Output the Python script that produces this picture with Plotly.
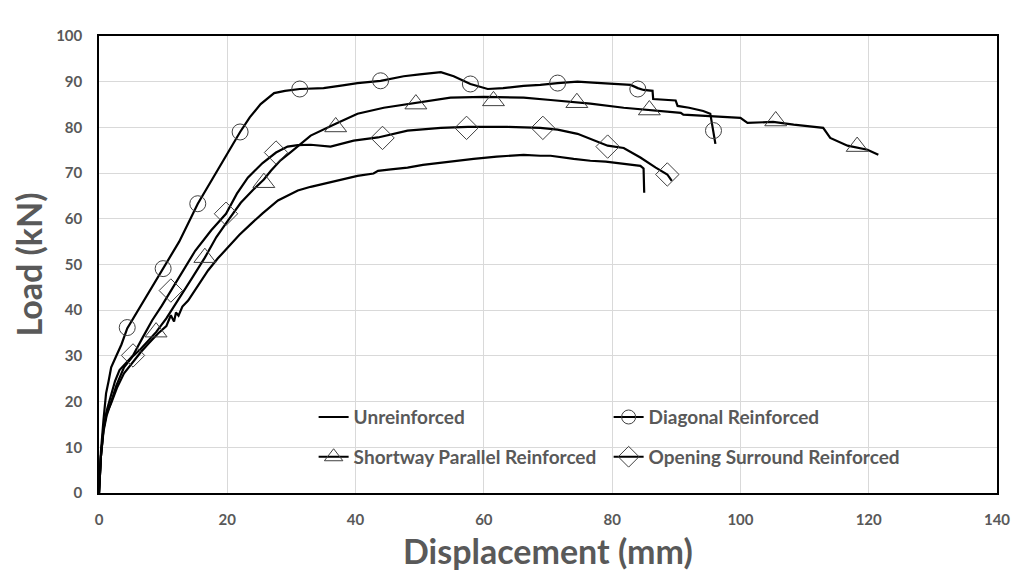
import plotly.graph_objects as go

# ---------------- data ----------------
unr_x = [0, 0.3, 0.7, 1.2, 1.9, 2.8, 3.9, 5.2, 6.5, 7.8, 9.2, 10.5, 11.2, 11.7, 12.0, 12.4, 13.0, 13.9,
         15.5, 17.0, 18.5, 20.1, 21.9, 23.7, 25.5, 27.9, 29.5, 31.0, 33.0, 35.0, 37.5, 40.3, 42.8, 43.5,
         45.5, 48.1, 50.5, 53.3, 56.0, 58.4, 62.0, 66.2, 68.8, 70.4, 74.0, 76.6, 79.0, 81.8, 84.4, 84.9,
         85.0, 85.0]
unr_y = [0, 8, 14, 17.5, 19.7, 23.0, 26.2, 28.6, 30.8, 32.8, 34.9, 36.5, 38.9, 37.5, 39.5, 38.8, 40.8, 42.1,
         45.5, 48.7, 51.3, 53.7, 56.5, 58.9, 61.2, 64.0, 65.2, 66.2, 67.0, 67.7, 68.5, 69.4, 69.9, 70.5,
         70.8, 71.2, 71.8, 72.3, 72.8, 73.1, 73.6, 74.0, 73.8, 73.8, 73.1, 72.7, 72.5, 72.1, 71.6, 71.0,
         68.0, 65.7]

dia_x = [0, 0.3, 0.7, 1.1, 1.5, 1.9, 2.6, 3.5, 4.4, 6, 8, 10, 12.5, 15.4, 18.5, 22.0, 23.5, 25.2, 27.3, 29,
         31.3, 35, 38, 40.3, 43.9, 47.5, 50, 53.3, 55.3, 57.9, 60.6, 63, 66.2, 68.8, 71.5, 74.6, 77, 79.8,
         81.3, 82.9, 84.0, 84.9, 86.3, 86.4, 89.9, 90.2, 92, 94.2, 95.3, 95.6, 96.1]
dia_y = [0, 9, 16, 21.8, 24.5, 27.5, 29.7, 32.5, 36.0, 39.8, 44.6, 49.1, 55, 63.3, 70.8, 79.0, 82.2, 85.1,
         87.5, 88.0, 88.4, 88.6, 89.2, 89.7, 90.2, 91.2, 91.6, 92.1, 91.2, 89.5, 88.4, 88.6, 89.1, 89.3,
         89.7, 90.0, 89.8, 89.5, 89.5, 89.3, 88.6, 88.2, 88.0, 86.2, 85.9, 84.7, 84.3, 83.6, 83.0, 80.8, 76.4]
dia_mx = [4.4, 10.0, 15.4, 22.0, 31.3, 43.9, 57.9, 71.5, 84.0, 95.8]
dia_my = [36.2, 49.1, 63.3, 79.0, 88.4, 90.2, 89.5, 89.7, 88.4, 79.3]

sho_x = [0, 0.3, 0.7, 1.2, 1.8, 2.7, 3.9, 5.2, 6.5, 7.8, 8.9, 10.5, 12.5, 14.5, 16.5, 18.3, 20.1, 22.1, 24,
         25.7, 26.8, 28.3, 29.9, 33.0, 36.9, 40.3, 44.4, 49.4, 54.8, 60, 66.2, 70.4, 72, 76.6, 81.8, 86,
         90.7, 91.1, 95.3, 100, 101.1, 105.1, 108.3, 112.9, 114, 116.7, 119.8, 121.5]
sho_y = [0, 8, 13.5, 17, 19.5, 23.5, 27.5, 29.8, 31.5, 33.5, 35.2, 38.2, 42.5, 47, 51.5, 56, 59.6, 63.5,
         66.3, 68.6, 70.5, 72.8, 74.6, 78.2, 80.8, 83.0, 84.3, 85.4, 86.5, 86.7, 86.5, 86.0, 85.8, 85.2,
         84.3, 83.8, 83.2, 82.8, 82.5, 82.1, 81.0, 81.2, 80.6, 79.9, 77.7, 76.0, 75.1, 74.0]
sho_mx = [8.9, 16.5, 25.7, 36.9, 49.4, 61.5, 74.5, 85.8, 105.5, 118.2]
sho_my = [35.2, 51.5, 67.9, 80.1, 85.1, 85.8, 85.4, 83.8, 81.4, 75.8]

ope_x = [0, 0.3, 0.7, 1.2, 1.8, 2.5, 3.2, 4.2, 5.3, 6.8, 8.3, 9.8, 11.2, 13, 15, 17.5, 19.8, 21.5, 23.2,
         25.5, 27.6, 29.4, 31, 33, 36.1, 39.7, 43.5, 48.1, 53.3, 57.5, 63.7, 68.8, 71.5, 74.6, 76.6, 79.3,
         81.8, 84.4, 86.8, 88.6, 89.3]
ope_y = [0, 8, 14, 18, 21, 24.5, 26.9, 28.5, 30.1, 34, 37.8, 41, 44.3, 48.6, 53, 57.5, 61.1, 65.5, 69.0,
         72.2, 74.5, 75.8, 76.1, 76.2, 75.8, 77.1, 77.8, 79.3, 79.9, 80.1, 80.1, 79.9, 79.5, 78.6, 77.5,
         76.0, 75.5, 73.4, 71.2, 69.7, 68.3]
ope_mx = [5.3, 11.2, 19.8, 27.6, 44.2, 57.3, 69.2, 79.3, 88.6]
ope_my = [30.1, 44.3, 61.1, 74.5, 77.7, 79.9, 79.9, 75.8, 69.7]

names = ["Unreinforced", "Diagonal Reinforced", "Shortway Parallel Reinforced", "Opening Surround Reinforced"]
x_ticks = [0, 20, 40, 60, 80, 100, 120, 140]
y_ticks = [0, 10, 20, 30, 40, 50, 60, 70, 80, 90, 100]
x_title = "Displacement (mm)"
y_title = "Load (kN)"

# ---------------- styling ----------------
LINE = dict(color="black", width=2.2)
MK_COLOR = "#404040"
GRAY = "#595959"
FONT = "Lato"

fig = go.Figure()

series = [
    (unr_x, unr_y, None, None, None, 0),
    (dia_x, dia_y, dia_mx, dia_my, "circle-open", 16),
    (sho_x, sho_y, sho_mx, sho_my, "triangle-up-open", 19),
    (ope_x, ope_y, ope_mx, ope_my, "diamond-open", 18),
]

for (x, y, mx, my, sym, size) in series:
    fig.add_trace(go.Scatter(x=x, y=y, mode="lines", line=LINE, showlegend=False, hoverinfo="skip"))
    if mx is not None:
        fig.add_trace(go.Scatter(x=mx, y=my, mode="markers", showlegend=False, hoverinfo="skip",
                                 marker=dict(symbol=sym, size=size, color=MK_COLOR,
                                             line=dict(color=MK_COLOR, width=1))))

# legend entries
for i, (x, y, mx, my, sym, size) in enumerate(series):
    if sym is None:
        mode = "lines"
        marker = None
    else:
        mode = "lines+markers"
        marker = dict(symbol=sym, size=size - 2, color=MK_COLOR, line=dict(color=MK_COLOR, width=1))
    fig.add_trace(go.Scatter(x=[None], y=[None], mode=mode, name=names[i],
                             line=LINE, marker=marker,
                             legend="legend" if i < 2 else "legend2"))

legend_common = dict(orientation="h", bgcolor="rgba(0,0,0,0)", borderwidth=0,
                     font=dict(family=FONT, size=19, color=GRAY, weight="bold"),
                     entrywidth=250, entrywidthmode="pixels", itemwidth=30,
                     xanchor="left", yanchor="middle", traceorder="normal")

fig.update_layout(
    width=1024, height=588,
    margin=dict(l=91, r=35, t=28, b=103),
    paper_bgcolor="white", plot_bgcolor="white",
    legend=dict(x=0.239, y=0.166, **legend_common),
    legend2=dict(x=0.239, y=0.079, **legend_common),
    xaxis=dict(range=[0, 140], tickvals=x_ticks, ticktext=[str(v) for v in x_ticks],
               showgrid=True, gridcolor="#d9d9d9", gridwidth=1, zeroline=False,
               showline=True, linecolor="black", linewidth=1.5, mirror=True,
               ticks="", ticklabelstandoff=12,
               tickfont=dict(family=FONT, size=15, color=GRAY, weight="bold")),
    yaxis=dict(range=[0, 100], tickvals=y_ticks, ticktext=[str(v) for v in y_ticks],
               showgrid=True, gridcolor="#d9d9d9", gridwidth=1, zeroline=False,
               showline=True, linecolor="black", linewidth=1.5, mirror=True,
               ticks="", ticklabelstandoff=12,
               tickfont=dict(family=FONT, size=15, color=GRAY, weight="bold"),
               title=dict(text=y_title, standoff=8,
                          font=dict(family=FONT, size=34, color=GRAY, weight="bold"))),
    annotations=[dict(text=x_title, xref="paper", yref="paper", x=0.5, y=-0.0775,
                      xanchor="center", yanchor="top", showarrow=False,
                      font=dict(family=FONT, size=34, color=GRAY, weight="bold"))],
)

fig.write_html("out.html")
